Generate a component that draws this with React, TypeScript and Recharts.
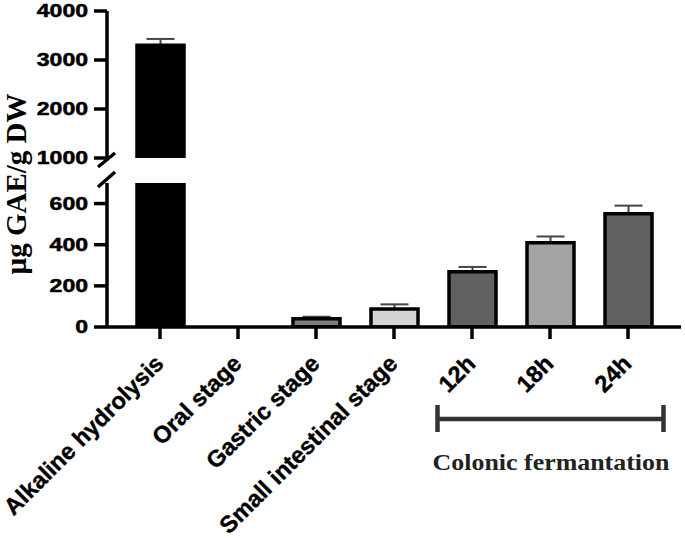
import React from 'react';
import { BarChart, Bar, XAxis, YAxis, Cell, ErrorBar } from 'recharts';

const categories = [
  'Alkaline hydrolysis',
  'Oral stage',
  'Gastric stage',
  'Small intestinal stage',
  '12h',
  '18h',
  '24h',
];
const meanValues = [3300, 0, 40, 88, 268, 410, 550];
const semValues = [130, 0, 10, 22, 24, 30, 40];

const upperTicks = [1000, 2000, 3000, 4000];
const lowerTicks = [0, 200, 400, 600];
const upperDomain = [1000, 4000];
const lowerDomain = [0, 700];

const barFills = ['#000000', '#ffffff', '#7d7d7d', '#d4d4d4', '#616161', '#a3a3a3', '#616161'];

const lowerMax = lowerDomain[1];

const upperRows = categories.map((name, i) => ({
  name,
  value: meanValues[i] > lowerMax ? meanValues[i] : null,
  err: meanValues[i] > lowerMax ? semValues[i] : 0,
}));

const lowerRows = categories.map((name, i) => ({
  name,
  value: meanValues[i],
  err: meanValues[i] > lowerMax ? 0 : semValues[i],
}));

const SANS = '"Liberation Sans", Arial, sans-serif';
const SERIF = '"Liberation Serif", "Times New Roman", serif';
const W = 685;
const AXIS_W = 3.5;
const AXIS_LEFT = 107;
const XPAD = { left: 14, right: 14 };

const YTick = (props: any) => {
  const { x, y, payload } = props;
  return (
    <g transform={`translate(${x},${y}) scale(1.28,1)`}>
      <text x={0} y={0} dy="0.36em" textAnchor="end" fontFamily={SANS} fontWeight="bold" fontSize={18}
        fill="#000" stroke="#000" strokeWidth={0.5}>
        {payload.value}
      </text>
    </g>
  );
};

const XTick = (props: any) => {
  const { x, y, payload } = props;
  return (
    <g transform={`translate(${x + 5},${y + 24}) rotate(-45)`}>
      <text x={0} y={0} textAnchor="end" fontFamily={SANS} fontWeight="bold" fontSize={23.5}
        fill="#000" stroke="#000" strokeWidth={0.4}>
        {payload.value}
      </text>
    </g>
  );
};

const yAxisCommon = {
  width: AXIS_LEFT,
  allowDataOverflow: true,
  interval: 0 as const,
  tickSize: 13,
  tickMargin: 6,
  tick: YTick,
  axisLine: { stroke: '#000', strokeWidth: AXIS_W },
  tickLine: { stroke: '#000', strokeWidth: AXIS_W },
};

// error bars go in a chart drawn underneath, so the bars hide the lower whisker
const ErrorLayer = ({ rows, domain, height, margin }: any) => (
  <BarChart
    width={W}
    height={height}
    data={rows}
    margin={{ ...margin, left: margin.left + AXIS_LEFT }}
  >
    <XAxis dataKey="name" hide padding={XPAD} />
    <YAxis hide domain={domain} allowDataOverflow />
    <Bar dataKey="value" barSize={47} fill="none" stroke="none" isAnimationActive={false}>
      <ErrorBar dataKey="err" width={14} stroke="#444" strokeWidth={2} direction="y" isAnimationActive={false} />
    </Bar>
  </BarChart>
);

const barSeries = (
  <Bar dataKey="value" barSize={47} stroke="#000" strokeWidth={AXIS_W} isAnimationActive={false}>
    {categories.map((c, i) => (
      <Cell key={c} fill={barFills[i]} />
    ))}
  </Bar>
);

const upperMargin = { top: 11, right: 4, left: 0, bottom: 14 };
const lowerMargin = { top: 13, right: 4, left: 0, bottom: 11 };

export default function App() {
  return (
    <div style={{ position: 'absolute', left: 0, top: 0, width: W, height: 538, background: '#fff' }}>
      <div style={{ position: 'absolute', left: 0, top: 0 }}>
        <ErrorLayer rows={upperRows} domain={upperDomain} height={172} margin={upperMargin} />
      </div>
      <div style={{ position: 'absolute', left: 0, top: 0 }}>
        <BarChart width={W} height={172} data={upperRows} margin={upperMargin}>
          <XAxis dataKey="name" hide padding={XPAD} />
          <YAxis {...yAxisCommon} domain={upperDomain} ticks={upperTicks} />
          {barSeries}
        </BarChart>
      </div>
      <div style={{ position: 'absolute', left: 0, top: 170 }}>
        <ErrorLayer rows={lowerRows} domain={lowerDomain} height={368} margin={{ ...lowerMargin, bottom: 211 }} />
      </div>
      <div style={{ position: 'absolute', left: 0, top: 170 }}>
        <BarChart width={W} height={368} data={lowerRows} margin={lowerMargin}>
          <XAxis
            dataKey="name"
            height={200}
            interval={0}
            padding={XPAD}
            tickSize={12}
            tickMargin={2}
            tick={XTick}
            axisLine={{ stroke: '#000', strokeWidth: AXIS_W }}
            tickLine={{ stroke: '#000', strokeWidth: AXIS_W }}
          />
          <YAxis {...yAxisCommon} domain={lowerDomain} ticks={lowerTicks} />
          {barSeries}
        </BarChart>
      </div>
      <svg width={W} height={538} style={{ position: 'absolute', left: 0, top: 0, pointerEvents: 'none' }}>
        {/* axis break marks */}
        <line x1={98} y1={167} x2={115} y2={153} stroke="#000" strokeWidth={AXIS_W} />
        <line x1={98} y1={187} x2={115} y2={172} stroke="#000" strokeWidth={AXIS_W} />
        {/* y axis title */}
        <text
          transform="translate(26,184) rotate(-90)"
          textAnchor="middle"
          fontFamily={SERIF}
          fontWeight="bold"
          fontSize={29}
          fill="#000"
        >
          µg GAE/g DW
        </text>
        {/* colonic fermentation bracket */}
        <line x1={437.5} y1={419} x2={663.5} y2={419} stroke="#333" strokeWidth={4.5} />
        <line x1={437.5} y1={405} x2={437.5} y2={432} stroke="#333" strokeWidth={4.5} />
        <line x1={663.5} y1={405} x2={663.5} y2={432} stroke="#333" strokeWidth={4.5} />
        <g transform="translate(551,470) scale(1.08,1)">
          <text x={0} y={0} textAnchor="middle" fontFamily={SERIF} fontWeight="bold" fontSize={24} fill="#222">
            Colonic fermantation
          </text>
        </g>
      </svg>
    </div>
  );
}
